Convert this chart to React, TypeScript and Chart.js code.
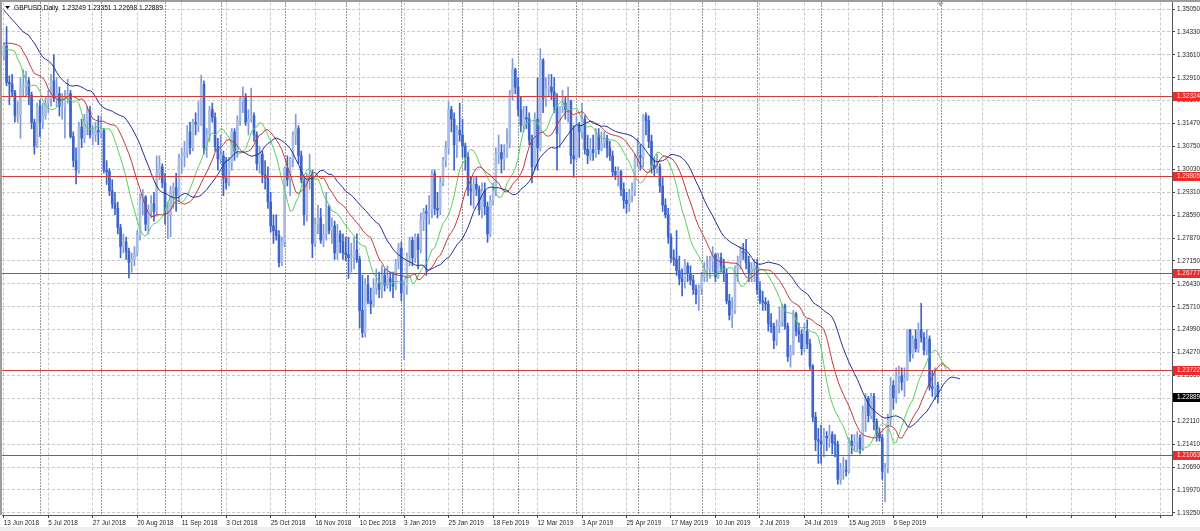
import React, { useEffect, useRef } from 'react';
import { Chart, registerables } from 'chart.js';

Chart.register(...registerables);

// ---- Daily GBPUSD candles, values in 1e-4 units: [open, high, low, close] ----
const jun2018 = [
  [13360, 13400, 13345, 13390], [13390, 13450, 13265, 13275], [13275, 13296, 13205, 13270], [13270, 13300, 13230, 13245],
  [13245, 13250, 13150, 13170], [13170, 13215, 13150, 13175], [13175, 13290, 13100, 13260], [13260, 13315, 13230, 13265],
  [13265, 13310, 13230, 13280], [13280, 13290, 13205, 13235], [13235, 13245, 13130, 13150], [13150, 13160, 13050, 13075],
  [13075, 13210, 13070, 13200],
];
const jul2018 = [
  [13200, 13220, 13105, 13150], [13150, 13210, 13130, 13170], [13170, 13230, 13160, 13210], [13210, 13250, 13180, 13225],
  [13225, 13300, 13200, 13280], [13280, 13362, 13215, 13225], [13225, 13290, 13200, 13240], [13240, 13260, 13170, 13200],
  [13200, 13240, 13160, 13200], [13200, 13250, 13100, 13230], [13230, 13285, 13210, 13240], [13240, 13250, 13100, 13105],
  [13105, 13120, 13010, 13030], [13030, 13070, 12957, 13000], [13000, 13150, 12990, 13135], [13135, 13160, 13070, 13100],
  [13100, 13175, 13085, 13155], [13155, 13200, 13110, 13185], [13185, 13200, 13100, 13110], [13110, 13140, 13080, 13110],
  [13110, 13150, 13090, 13125], [13125, 13170, 13080, 13120],
];
const aug2018 = [
  [13120, 13170, 13100, 13125], [13125, 13130, 12990, 13000], [13000, 13030, 12955, 12995], [12995, 13005, 12920, 12935],
  [12935, 12970, 12880, 12895], [12895, 12930, 12860, 12880], [12880, 12900, 12800, 12820], [12820, 12830, 12725, 12760],
  [12760, 12800, 12740, 12775], [12775, 12790, 12720, 12745], [12745, 12755, 12662, 12710], [12710, 12740, 12680, 12720],
  [12720, 12760, 12700, 12740], [12740, 12810, 12730, 12795], [12795, 12925, 12780, 12905], [12905, 12940, 12860, 12915],
  [12915, 12920, 12810, 12830], [12830, 12890, 12800, 12875], [12875, 12920, 12850, 12895], [12895, 12930, 12840, 12870],
  [12870, 13045, 12855, 12990], [12990, 13045, 12970, 13010], [13010, 13020, 12945, 12960],
];
const sep2018 = [
  [12960, 12990, 12830, 12860], [12860, 12900, 12785, 12860], [12860, 12950, 12790, 12935], [12935, 12960, 12880, 12945],
  [12945, 12990, 12870, 12920], [12920, 13050, 12900, 13035], [13035, 13070, 12990, 13045], [13045, 13090, 13010, 13055],
  [13055, 13140, 13040, 13120], [13120, 13150, 13050, 13070], [13070, 13160, 13060, 13150], [13150, 13180, 13110, 13145],
  [13145, 13215, 13120, 13145], [13145, 13298, 13140, 13270], [13270, 13280, 13050, 13070], [13070, 13130, 13040, 13110],
  [13110, 13200, 13090, 13190], [13190, 13210, 13150, 13165], [13165, 13180, 13060, 13075], [13075, 13100, 13000, 13035],
];
const oct2018 = [
  [13035, 13110, 13020, 13045], [13045, 13060, 12920, 12975], [12975, 13040, 12940, 12960], [12960, 13040, 12950, 13025],
  [13025, 13130, 13000, 13120], [13120, 13130, 13030, 13060], [13060, 13170, 13040, 13155], [13155, 13230, 13140, 13220],
  [13220, 13260, 13180, 13230], [13230, 13240, 13140, 13150], [13150, 13190, 13110, 13160], [13160, 13257, 13150, 13170],
  [13170, 13180, 13090, 13110], [13110, 13120, 13000, 13020], [13020, 13075, 12990, 13050], [13050, 13060, 12960, 12985],
  [12985, 13030, 12940, 12975], [12975, 13010, 12880, 12900], [12900, 12930, 12805, 12825], [12825, 12860, 12770, 12810],
  [12810, 12860, 12780, 12795], [12795, 12810, 12696, 12710], [12710, 12790, 12700, 12775],
];
const nov2018 = [
  [12775, 13010, 12760, 13005], [13005, 13045, 12950, 12970], [12970, 13040, 12920, 13035], [13035, 13120, 13010, 13110],
  [13110, 13175, 13080, 13130], [13130, 13140, 13020, 13045], [13045, 13060, 12960, 12970], [12970, 12980, 12827, 12860],
  [12860, 12990, 12840, 12975], [12975, 13050, 12940, 12985], [12985, 13000, 12725, 12770], [12770, 12850, 12760, 12830],
  [12830, 12890, 12800, 12850], [12850, 12880, 12770, 12780], [12780, 12830, 12760, 12800], [12800, 12930, 12780, 12885],
  [12885, 12890, 12800, 12810], [12810, 12850, 12770, 12825], [12825, 12840, 12720, 12740], [12740, 12830, 12720, 12800],
  [12800, 12810, 12740, 12775], [12775, 12800, 12720, 12740],
];
const dec2018 = [
  [12740, 12790, 12715, 12735], [12735, 12790, 12660, 12725], [12725, 12770, 12680, 12725], [12725, 12790, 12690, 12750],
  [12750, 12800, 12710, 12720], [12720, 12730, 12505, 12560], [12560, 12670, 12475, 12490], [12490, 12660, 12477, 12640],
  [12640, 12670, 12580, 12590], [12590, 12630, 12550, 12580], [12580, 12660, 12570, 12630], [12630, 12690, 12610, 12645],
  [12645, 12680, 12600, 12625], [12625, 12700, 12600, 12670], [12670, 12690, 12620, 12640], [12640, 12700, 12630, 12660],
  [12660, 12680, 12620, 12650], [12650, 12680, 12600, 12635], [12635, 12720, 12625, 12710], [12710, 12770, 12690, 12755],
];
const jan2019 = [
  [12755, 12775, 12590, 12615], [12615, 12650, 12405, 12635], [12635, 12740, 12610, 12730], [12730, 12790, 12700, 12780],
  [12780, 12790, 12700, 12725], [12725, 12800, 12710, 12790], [12790, 12800, 12690, 12750], [12750, 12865, 12740, 12845],
  [12845, 12880, 12810, 12870], [12870, 12890, 12670, 12865], [12865, 12920, 12830, 12875], [12875, 13000, 12850, 12990],
  [12990, 13000, 12860, 12880], [12880, 12930, 12850, 12875], [12875, 12980, 12860, 12960], [12960, 13040, 12950, 13030],
  [13030, 13090, 13010, 13070], [13070, 13215, 13050, 13190], [13190, 13200, 13120, 13160], [13160, 13180, 13000, 13080],
  [13080, 13140, 13040, 13125], [13125, 13210, 13090, 13110],
];
const feb2019 = [
  [13110, 13160, 13040, 13075], [13075, 13085, 13000, 13040], [13040, 13055, 12920, 12940], [12940, 12980, 12890, 12935],
  [12935, 12980, 12880, 12955], [12955, 12980, 12920, 12940], [12940, 12950, 12860, 12875], [12875, 12960, 12850, 12935],
  [12935, 12960, 12860, 12885], [12885, 12900, 12773, 12800], [12800, 12920, 12790, 12905], [12905, 12960, 12890, 12935],
  [12935, 13070, 12920, 13050], [13050, 13110, 13020, 13055], [13055, 13080, 12990, 13035], [13035, 13080, 13000, 13045],
  [13045, 13130, 13040, 13085], [13085, 13250, 13070, 13240], [13240, 13350, 13220, 13315], [13315, 13320, 13240, 13260],
];
const mar2019 = [
  [13260, 13290, 13170, 13190], [13190, 13230, 13120, 13140], [13140, 13200, 13120, 13165], [13165, 13200, 13130, 13160],
  [13160, 13180, 13080, 13095], [13095, 13110, 12960, 13010], [13010, 13180, 13000, 13160], [13160, 13290, 13000, 13070],
  [13070, 13381, 13060, 13345], [13345, 13350, 13180, 13225], [13225, 13290, 13200, 13255], [13255, 13300, 13230, 13260],
  [13260, 13300, 13220, 13245], [13245, 13290, 13180, 13200], [13200, 13240, 13000, 13115], [13115, 13200, 13070, 13200],
  [13200, 13250, 13180, 13210], [13210, 13230, 13160, 13190], [13190, 13260, 13150, 13215], [13215, 13220, 13020, 13045],
  [13045, 13140, 12977, 13035],
];
const apr2019 = [
  [13035, 13170, 13030, 13140], [13140, 13150, 13040, 13120], [13120, 13210, 13100, 13160], [13160, 13170, 13050, 13065],
  [13065, 13110, 13020, 13045], [13045, 13100, 13030, 13065], [13065, 13110, 13030, 13055], [13055, 13130, 13040, 13110],
  [13110, 13130, 13050, 13065], [13065, 13120, 13060, 13085], [13085, 13120, 13070, 13100], [13100, 13110, 13040, 13070],
  [13070, 13090, 13030, 13045], [13045, 13060, 12980, 12995], [12995, 13010, 12970, 12985], [12985, 13010, 12950, 12995],
  [12995, 13000, 12920, 12940], [12940, 12960, 12880, 12905], [12905, 12930, 12865, 12895], [12895, 12940, 12870, 12920],
  [12920, 12960, 12900, 12935], [12935, 13050, 12920, 13040],
];
const may2019 = [
  [13040, 13100, 13010, 13045], [13045, 13080, 13000, 13040], [13040, 13175, 13010, 13170], [13170, 13180, 13110, 13155],
  [13155, 13170, 13070, 13090], [13090, 13110, 12990, 13015], [13015, 13040, 12980, 13005], [13005, 13050, 12990, 13010],
  [13010, 13020, 12930, 12950], [12950, 12980, 12870, 12890], [12890, 12910, 12850, 12860], [12860, 12880, 12770, 12790],
  [12790, 12800, 12710, 12725], [12725, 12750, 12700, 12720], [12720, 12810, 12670, 12685], [12685, 12730, 12640, 12660],
  [12660, 12690, 12605, 12650], [12650, 12720, 12630, 12700], [12700, 12710, 12650, 12675], [12675, 12700, 12640, 12655],
  [12655, 12670, 12610, 12625], [12625, 12640, 12580, 12610], [12610, 12640, 12560, 12630],
];
const jun2019 = [
  [12630, 12680, 12610, 12665], [12665, 12710, 12650, 12685], [12685, 12730, 12650, 12690], [12690, 12730, 12660, 12715],
  [12715, 12760, 12680, 12735], [12735, 12740, 12650, 12665], [12665, 12740, 12660, 12725], [12725, 12740, 12680, 12700],
  [12700, 12720, 12650, 12675], [12675, 12690, 12580, 12590], [12590, 12610, 12530, 12545], [12545, 12600, 12506, 12560],
  [12560, 12700, 12550, 12690], [12690, 12730, 12650, 12715], [12715, 12760, 12690, 12745], [12745, 12770, 12720, 12740],
  [12740, 12783, 12690, 12710], [12710, 12730, 12650, 12675], [12675, 12710, 12650, 12690], [12690, 12720, 12650, 12700],
];
const jul2019 = [
  [12700, 12720, 12610, 12625], [12625, 12650, 12580, 12590], [12590, 12620, 12560, 12585], [12585, 12600, 12560, 12580],
  [12580, 12590, 12495, 12520], [12520, 12550, 12490, 12510], [12510, 12520, 12440, 12465], [12465, 12530, 12450, 12510],
  [12510, 12570, 12490, 12525], [12525, 12580, 12510, 12575], [12575, 12580, 12500, 12510], [12510, 12520, 12400, 12415],
  [12415, 12450, 12382, 12430], [12430, 12560, 12420, 12550], [12550, 12555, 12480, 12495], [12495, 12520, 12460, 12485],
  [12485, 12500, 12420, 12440], [12440, 12520, 12430, 12495], [12495, 12530, 12440, 12455], [12455, 12470, 12375, 12385],
  [12385, 12390, 12210, 12225], [12225, 12240, 12120, 12155], [12155, 12190, 12080, 12150],
];
const aug2019 = [
  [12150, 12200, 12080, 12140], [12140, 12190, 12100, 12165], [12165, 12180, 12120, 12160], [12160, 12200, 12130, 12170],
  [12170, 12180, 12110, 12145], [12145, 12170, 12100, 12140], [12140, 12150, 12015, 12030], [12030, 12080, 12015, 12060],
  [12060, 12100, 12030, 12060], [12060, 12090, 12040, 12055], [12055, 12160, 12050, 12150], [12150, 12170, 12110, 12135],
  [12135, 12170, 12120, 12145], [12145, 12180, 12120, 12160], [12160, 12170, 12110, 12125], [12125, 12260, 12120, 12240],
  [12240, 12300, 12180, 12285], [12285, 12290, 12210, 12230], [12230, 12300, 12220, 12290], [12290, 12300, 12185, 12210],
  [12210, 12220, 12150, 12175], [12175, 12190, 12150, 12160],
];
const sep2019 = [
  [12160, 12170, 12030, 12055], [12055, 12080, 11959, 12065], [12065, 12235, 12050, 12215], [12215, 12350, 12200, 12325],
  [12325, 12340, 12250, 12285], [12285, 12380, 12270, 12355], [12355, 12385, 12300, 12355], [12355, 12380, 12310, 12335],
  [12335, 12380, 12290, 12345], [12345, 12500, 12340, 12500], [12500, 12500, 12400, 12425], [12425, 12480, 12410, 12470],
  [12470, 12500, 12430, 12440], [12440, 12520, 12430, 12500], [12500, 12582, 12460, 12475], [12475, 12490, 12420, 12435],
  [12435, 12500, 12420, 12470], [12470, 12480, 12310, 12320], [12320, 12370, 12290, 12315], [12315, 12380, 12280, 12325],
  [12324.9, 12335.1, 12269.8, 12288.9],
];

// Alligator starting values (plotted values at the left edge), 1e-4 units
const jawHead = [13502, 13492, 13482, 13472, 13463, 13453, 13443, 13433];
const teethHead = [13398, 13398, 13398, 13397, 13395];
const lipsHead = [13383, 13380, 13377];

// Axis labels
const dateLabels = [
  '13 Jun 2018', '5 Jul 2018', '27 Jul 2018', '20 Aug 2018', '11 Sep 2018', '3 Oct 2018', '25 Oct 2018',
  '16 Nov 2018', '10 Dec 2018', '3 Jan 2019', '25 Jan 2019', '18 Feb 2019', '12 Mar 2019', '3 Apr 2019',
  '25 Apr 2019', '17 May 2019', '10 Jun 2019', '2 Jul 2019', '24 Jul 2019', '15 Aug 2019', '6 Sep 2019',
];
const yTickLabels = [
  '1.35050', '1.34330', '1.33610', '1.32910', '1.32190', '1.31470', '1.30750', '1.30030', '1.29310', '1.28590',
  '1.27870', '1.27150', '1.26430', '1.25710', '1.24990', '1.24270', '1.23550', '1.22830', '1.22110', '1.21410',
  '1.20690', '1.19970', '1.19250',
];
const monthStartIdx = [13, 35, 58, 78, 101, 123, 143, 165, 185, 206, 228, 251, 271, 294, 316, 337];
const priceLevels = [1.32324, 1.29805, 1.26777, 1.23722, 1.21063];
const symbolTitle = 'GBPUSD,Daily';

// ---- derived ----
const P = 10000;
const bars = [
  ...jun2018, ...jul2018, ...aug2018, ...sep2018, ...oct2018, ...nov2018, ...dec2018, ...jan2019,
  ...feb2019, ...mar2019, ...apr2019, ...may2019, ...jun2019, ...jul2019, ...aug2019, ...sep2019,
].map(([o, h, l, c]) => ({ o: o / P, h: h / P, l: l / P, c: c / P }));
const last = bars[bars.length - 1];

const bullBodies: any[] = [];
const bearBodies: any[] = [];
const bullWicks: any[] = [];
const bearWicks: any[] = [];
bars.forEach((b, i) => {
  if (b.c >= b.o) {
    bullBodies.push({ x: i, y: [b.o, b.c] });
    bullWicks.push({ x: i, y: [b.l, b.h] });
  } else {
    bearBodies.push({ x: i, y: [b.c, b.o] });
    bearWicks.push({ x: i, y: [b.l, b.h] });
  }
});

function alligator(head: number[], period: number) {
  const pts = head.map((v, i) => ({ x: i, y: v / P }));
  let s = head[head.length - 1] / P;
  const shift = head.length;
  bars.forEach((b, k) => {
    s = (s * (period - 1) + (b.h + b.l) / 2) / period;
    pts.push({ x: k + shift, y: s });
  });
  return pts;
}
const jaw = alligator(jawHead, 13);
const teeth = alligator(teethHead, 8);
const lips = alligator(lipsHead, 5);

const X_MIN = -0.647;
const X_MAX = 420.22;
const Y_MAX = 1.35257;
const Y_MIN = 1.19181;
const xTickIdx = Array.from({ length: 27 }, (_, k) => k * 16);
const yTop = parseFloat(yTickLabels[0]);
const yBot = parseFloat(yTickLabels[yTickLabels.length - 1]);
const yTickVals = yTickLabels.map((_, k) => yTop - (k * (yTop - yBot)) / (yTickLabels.length - 1));

const FONT = 'Liberation Sans';
const TICK_FONT_SIZE = 6.4;

const mtPlugin = {
  id: 'mtDecor',
  beforeDraw(chart: any) {
    const { ctx, width, height } = chart;
    ctx.save();
    ctx.fillStyle = '#ffffff';
    ctx.fillRect(0, 0, width, height);
    ctx.restore();
  },
  beforeDatasetsDraw(chart: any) {
    const { ctx, chartArea: a, scales } = chart;
    ctx.save();
    ctx.strokeStyle = '#333333';
    ctx.lineWidth = 1;
    ctx.setLineDash([1, 2]);
    monthStartIdx.forEach((i) => {
      const px = Math.round(scales.x.getPixelForValue(i)) + 0.5;
      ctx.beginPath();
      ctx.moveTo(px, a.top);
      ctx.lineTo(px, a.bottom);
      ctx.stroke();
    });
    ctx.restore();
  },
  afterDatasetsDraw(chart: any) {
    const { ctx, chartArea: a, scales } = chart;
    ctx.save();
    ctx.strokeStyle = '#d03c3c';
    ctx.lineWidth = 1;
    priceLevels.forEach((v) => {
      const py = Math.round(scales.y.getPixelForValue(v)) + 0.5;
      ctx.beginPath();
      ctx.moveTo(a.left, py);
      ctx.lineTo(a.right, py);
      ctx.stroke();
    });
    ctx.restore();
  },
  afterDraw(chart: any) {
    const { ctx, chartArea: a, scales, width, height } = chart;
    ctx.save();
    ctx.font = `${TICK_FONT_SIZE}px "${FONT}"`;
    ctx.textBaseline = 'middle';
    ctx.textAlign = 'left';
    const box = (v: number, bg: string, fg: string) => {
      const py = Math.round(scales.y.getPixelForValue(v));
      ctx.fillStyle = bg;
      ctx.fillRect(a.right + 1, py - 4, width - a.right - 1, 9);
      ctx.fillStyle = fg;
      ctx.fillText(v.toFixed(5), a.right + 5, py + 0.5);
    };
    priceLevels.forEach((v) => box(v, '#ee2a2a', '#ffe4e4'));
    box(last.c, '#000000', '#ffffff');

    // title
    ctx.fillStyle = '#000000';
    ctx.font = `6.6px "${FONT}"`;
    ctx.fillText(
      `${symbolTitle}  ${last.o.toFixed(5)} ${last.h.toFixed(5)} ${last.l.toFixed(5)} ${last.c.toFixed(5)}`,
      14, 8
    );
    ctx.beginPath();
    ctx.moveTo(5, 6);
    ctx.lineTo(10, 6);
    ctx.lineTo(7.5, 9);
    ctx.closePath();
    ctx.fill();

    // chart shift marker
    const sx = scales.x.getPixelForValue(bars.length);
    ctx.fillStyle = '#a8a8a8';
    ctx.beginPath();
    ctx.moveTo(sx - 3, a.top);
    ctx.lineTo(sx + 3, a.top);
    ctx.lineTo(sx, a.top + 4);
    ctx.closePath();
    ctx.fill();

    // window frame
    ctx.fillStyle = '#9c9c9c';
    ctx.fillRect(0, 0, width, 2);
    ctx.fillRect(0, 0, 2, a.bottom);
    ctx.fillStyle = '#eeeeee';
    ctx.fillRect(0, height - 4, width, 4);
    ctx.restore();
  },
};

export default function App() {
  const ref = useRef<HTMLCanvasElement>(null);
  useEffect(() => {
    document.body.style.margin = '0';
    const canvas = ref.current;
    if (!canvas) return;
    const barCommon = { grouped: false, borderWidth: 0, borderSkipped: false };
    const chart = new Chart(canvas, {
      type: 'bar',
      data: {
        datasets: [
          { type: 'line', label: 'Jaw', data: jaw, borderColor: '#22308f', borderWidth: 1, pointRadius: 0, tension: 0, order: 0 },
          { type: 'line', label: 'Teeth', data: teeth, borderColor: '#c03a3a', borderWidth: 1, pointRadius: 0, tension: 0, order: 0 },
          { type: 'line', label: 'Lips', data: lips, borderColor: '#5ad05a', borderWidth: 1, pointRadius: 0, tension: 0, order: 0 },
          { ...barCommon, label: 'bullBody', data: bullBodies, backgroundColor: '#aabde3', barThickness: 2, minBarLength: 1, order: 1 },
          { ...barCommon, label: 'bearBody', data: bearBodies, backgroundColor: '#3d64c9', barThickness: 2, minBarLength: 1, order: 1 },
          { ...barCommon, label: 'bullWick', data: bullWicks, backgroundColor: '#7f9bd9', barThickness: 1, order: 2 },
          { ...barCommon, label: 'bearWick', data: bearWicks, backgroundColor: '#3d64c9', barThickness: 1, order: 2 },
        ] as any,
      },
      options: {
        responsive: false,
        animation: false,
        devicePixelRatio: 1,
        events: [],
        layout: { padding: { left: 2, top: 2.5, right: 0, bottom: 0 } },
        plugins: { legend: { display: false }, tooltip: { enabled: false }, title: { display: false } },
        scales: {
          x: {
            type: 'linear',
            min: X_MIN,
            max: X_MAX,
            offset: false,
            afterBuildTicks: (s: any) => {
              s.ticks = xTickIdx.map((v) => ({ value: v }));
            },
            afterFit: (s: any) => {
              s.height = 16;
              s.paddingLeft = 0;
              s.paddingRight = 0;
              s.paddingTop = 0;
              s.paddingBottom = 0;
            },
            ticks: {
              autoSkip: false,
              maxRotation: 0,
              minRotation: 0,
              align: 'start',
              padding: 1,
              color: '#262626',
              font: { family: FONT, size: TICK_FONT_SIZE },
              callback: (_v: any, i: number) => dateLabels[i] ?? '',
            },
            grid: { color: '#c9c9c9', offset: false, drawTicks: true, tickLength: 3, tickColor: '#444444', tickBorderDash: [] },
            border: { display: true, color: '#555555', width: 1, dash: [3, 2] },
          },
          y: {
            type: 'linear',
            position: 'right',
            min: Y_MIN,
            max: Y_MAX,
            afterBuildTicks: (s: any) => {
              s.ticks = yTickVals.map((v) => ({ value: v }));
            },
            afterFit: (s: any) => {
              s.width = 28;
              s.paddingLeft = 0;
              s.paddingRight = 0;
              s.paddingTop = 0;
              s.paddingBottom = 0;
            },
            ticks: {
              autoSkip: false,
              padding: 2,
              color: '#262626',
              font: { family: FONT, size: TICK_FONT_SIZE },
              callback: (_v: any, i: number) => yTickLabels[i] ?? '',
            },
            grid: { color: '#c9c9c9', drawTicks: true, tickLength: 3, tickColor: '#444444', tickBorderDash: [] },
            border: { display: true, color: '#555555', width: 1, dash: [3, 2] },
          },
        },
      } as any,
      plugins: [mtPlugin],
    });
    return () => chart.destroy();
  }, []);
  return <canvas ref={ref} width={1200} height={531} style={{ display: 'block', width: 1200, height: 531 }} />;
}
